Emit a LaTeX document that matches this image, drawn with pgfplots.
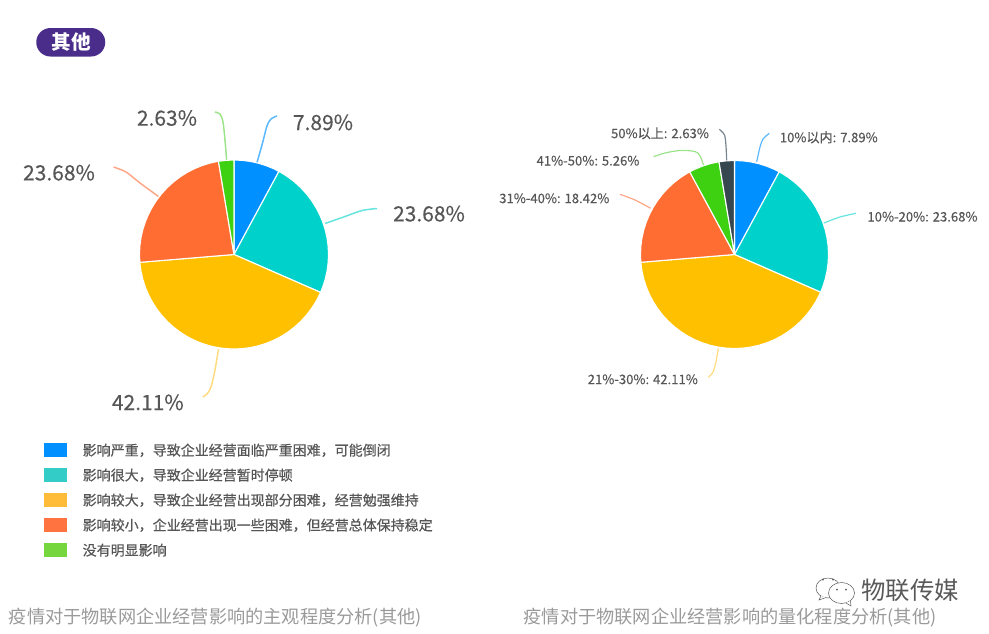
\documentclass[border=0pt]{standalone}
\usepackage{fontspec}
\setmainfont{Noto Sans CJK SC}
\usepackage{pgfplots}
\pgfplotsset{compat=1.18}
\definecolor{cBlue}{HTML}{0090FF}
\definecolor{cTeal}{HTML}{00D2CB}
\definecolor{cYel}{HTML}{FFC000}
\definecolor{cOra}{HTML}{FF6D33}
\definecolor{cGre}{HTML}{3DD111}
\definecolor{cDark}{HTML}{37474F}
\definecolor{gTeal}{HTML}{33CCC6}
\definecolor{gYel}{HTML}{FFBC38}
\definecolor{gOra}{HTML}{FF7340}
\definecolor{gGre}{HTML}{76D63D}
\definecolor{lBlue}{HTML}{5BB8FF}
\definecolor{lTeal}{HTML}{66E4DF}
\definecolor{lYel}{HTML}{FFDC80}
\definecolor{lOra}{HTML}{FFA888}
\definecolor{lGre}{HTML}{9CE48A}
\definecolor{lDark}{HTML}{78858C}
\definecolor{txt}{HTML}{565656}
\definecolor{cap}{HTML}{9A9A9A}
\definecolor{pill}{HTML}{4A2C8A}
\pgfplotsset{
  pie/.style={hide axis, clip=false, scale only axis, width=220pt, height=220pt,
    xmin=-110, xmax=110, ymin=-110, ymax=110, anchor=center, data cs=polar},
  wedge/.style={fill=#1, draw=white, line width=1.1pt, line join=round, mark=none}
}
\newcommand{\biglab}[1]{\fontsize{21}{24}\selectfont\addfontfeature{FakeBold=0.25} #1}
\newcommand{\sm}[1]{\fontsize{13.1}{15}\selectfont\addfontfeature{FakeBold=0.25} #1}
\newcommand{\leg}[1]{\fontsize{14}{16}\selectfont\addfontfeature{FakeBold=0.5} #1}
\newcommand{\capt}[1]{\fontsize{18.2}{20}\selectfont #1}
\begin{document}
\begin{tikzpicture}[x=1pt,y=1pt]
\useasboundingbox (0,0) rectangle (989,633);
% pixel layer: titles, legend, leader lines, labels
\begin{axis}[hide axis, clip=false, scale only axis, width=989pt, height=633pt,
  at={(0,0)}, anchor=south west, xmin=0, xmax=989, ymin=0, ymax=633, y dir=reverse]
\fill[pill] (axis cs:50.5,28) -- (axis cs:91,28) arc[start angle=-90,end angle=90,radius=14.25] -- (axis cs:50.5,56.5) arc[start angle=90,end angle=270,radius=14.25] -- cycle;
\node[text=white,font=\bfseries\fontsize{19.6}{22}\selectfont] at (axis cs:71,42.5) {其他};
% leader lines, left
\addplot[lBlue,line width=1.5pt,smooth,mark=none] coordinates {(256.7,163.5)(262,145)(267,126)(271,119)(277,116)};
\addplot[lTeal,line width=1.5pt,smooth,mark=none] coordinates {(325,223.5)(345,216.5)(362,210.5)(377,208.5)};
\addplot[lYel,line width=1.5pt,smooth,mark=none] coordinates {(218.5,349)(215,370)(211,387)(207,394)(202.7,397)};
\addplot[lOra,line width=1.5pt,smooth,mark=none] coordinates {(158.5,196.5)(140,183)(126,172)(113.5,167)};
\addplot[lGre,line width=1.5pt,smooth,mark=none] coordinates {(226.7,161)(225,140)(223,122)(220,114)(215,112)};
% leader lines, right
\addplot[lBlue,line width=1.2pt,smooth,mark=none] coordinates {(756.7,161.7)(760,147)(763,139)(769.3,133.3)};
\addplot[lTeal,line width=1.2pt,smooth,mark=none] coordinates {(823.3,223.3)(840,217)(856,213.3)};
\addplot[lYel,line width=1.2pt,smooth,mark=none] coordinates {(718.3,348.3)(715.5,364)(712.5,373)(708.3,377.3)};
\addplot[lOra,line width=1.2pt,smooth,mark=none] coordinates {(650.7,208.3)(635,200)(620,194.3)};
\addplot[lGre,line width=1.2pt,smooth,mark=none] coordinates {(703.5,165)(700,156)(695,151.5)(680,150.5)(665,153)(653.5,156.7)};
\addplot[lDark,line width=1.2pt,smooth,mark=none] coordinates {(726.7,161)(726,146)(724.5,135)(719.3,129.3)};
% labels, left
\node[text=txt] at (axis cs:323,122.4) {\biglab{7.89\%}};
\node[text=txt] at (axis cs:429,213.7) {\biglab{23.68\%}};
\node[text=txt] at (axis cs:147.8,402.4) {\biglab{42.11\%}};
\node[text=txt] at (axis cs:59,172.7) {\biglab{23.68\%}};
\node[text=txt] at (axis cs:167,118) {\biglab{2.63\%}};
% labels, right
\node[text=txt] at (axis cs:828.8,137.3) {\sm{10\%以内: 7.89\%}};
\node[text=txt] at (axis cs:922.5,216.7) {\sm{10\%-20\%: 23.68\%}};
\node[text=txt] at (axis cs:642.8,379.3) {\sm{21\%-30\%: 42.11\%}};
\node[text=txt] at (axis cs:554.3,198.3) {\sm{31\%-40\%: 18.42\%}};
\node[text=txt] at (axis cs:588,160.7) {\sm{41\%-50\%: 5.26\%}};
\node[text=txt] at (axis cs:660,133.3) {\sm{50\%以上: 2.63\%}};
% legend
\addplot[fill=cBlue,draw=none] coordinates {(44,443.3)(67,443.3)(67,457)(44,457)} --cycle;
\addplot[fill=gTeal,draw=none] coordinates {(44,468)(67,468)(67,482)(44,482)} --cycle;
\addplot[fill=gYel,draw=none] coordinates {(44,493)(67,493)(67,507)(44,507)} --cycle;
\addplot[fill=gOra,draw=none] coordinates {(44,518)(67,518)(67,532)(44,532)} --cycle;
\addplot[fill=gGre,draw=none] coordinates {(44,543)(67,543)(67,557)(44,557)} --cycle;
\node[text=txt,anchor=west,inner sep=0] at (axis cs:82.5,450.3) {\leg{影响严重，导致企业经营面临严重困难，可能倒闭}};
\node[text=txt,anchor=west,inner sep=0] at (axis cs:82.5,475.2) {\leg{影响很大，导致企业经营暂时停顿}};
\node[text=txt,anchor=west,inner sep=0] at (axis cs:82.5,500.2) {\leg{影响较大，导致企业经营出现部分困难，经营勉强维持}};
\node[text=txt,anchor=west,inner sep=0] at (axis cs:82.5,525.2) {\leg{影响较小，企业经营出现一些困难，但经营总体保持稳定}};
\node[text=txt,anchor=west,inner sep=0] at (axis cs:82.5,550.2) {\leg{没有明显影响}};
% captions
\node[text=cap] at (axis cs:215.3,618) {\capt{疫情对于物联网企业经营影响的主观程度分析(其他)}};
\node[text=cap] at (axis cs:730,618) {\capt{疫情对于物联网企业经营影响的量化程度分析(其他)}};
% watermark
\draw[black!65,line width=.5pt,fill=white] (axis cs:828,588) ellipse [x radius=12,y radius=10];
\draw[black!65,line width=.5pt,fill=white] (axis cs:821,596) -- (axis cs:819,600) -- (axis cs:826,597.5);
\draw[black!65,line width=.5pt,fill=white] (axis cs:841.5,593) ellipse [x radius=13,y radius=10.5];
\draw[black!65,line width=.5pt,fill=white] (axis cs:846,603) -- (axis cs:851,606) -- (axis cs:850.5,601);
\fill[black!65] (axis cs:823,579.5) circle[radius=1];
\fill[black!65] (axis cs:833,579.5) circle[radius=1];
\fill[black!65] (axis cs:837,589.5) circle[radius=1];
\fill[black!65] (axis cs:846,589.5) circle[radius=1];
\node[text=black!65,font=\fontsize{24.4}{27}\selectfont] at (axis cs:910,590) {物联传媒};
\end{axis}
% left pie
\begin{axis}[pie, at={(234,378.5)}]
\addplot[wedge=cBlue] coordinates {(0,0)(90,94.5)(85,94.5)(80,94.5)(75,94.5)(70,94.5)(65,94.5)(61.6,94.5)} --cycle;
\addplot[wedge=cTeal] coordinates {(0,0)(61.6,94.5)(60,94.5)(55,94.5)(50,94.5)(45,94.5)(40,94.5)(35,94.5)(30,94.5)(25,94.5)(20,94.5)(15,94.5)(10,94.5)(5,94.5)(0,94.5)(-5,94.5)(-10,94.5)(-15,94.5)(-20,94.5)(-23.65,94.5)} --cycle;
\addplot[wedge=cYel] coordinates {(0,0)(-23.65,94.5)(-25,94.5)(-30,94.5)(-35,94.5)(-40,94.5)(-45,94.5)(-50,94.5)(-55,94.5)(-60,94.5)(-65,94.5)(-70,94.5)(-75,94.5)(-80,94.5)(-85,94.5)(-90,94.5)(-95,94.5)(-100,94.5)(-105,94.5)(-110,94.5)(-115,94.5)(-120,94.5)(-125,94.5)(-130,94.5)(-135,94.5)(-140,94.5)(-145,94.5)(-150,94.5)(-155,94.5)(-160,94.5)(-165,94.5)(-170,94.5)(-175,94.5)(-175.25,94.5)} --cycle;
\addplot[wedge=cOra] coordinates {(0,0)(-175.25,94.5)(-180,94.5)(-185,94.5)(-190,94.5)(-195,94.5)(-200,94.5)(-205,94.5)(-210,94.5)(-215,94.5)(-220,94.5)(-225,94.5)(-230,94.5)(-235,94.5)(-240,94.5)(-245,94.5)(-250,94.5)(-255,94.5)(-260,94.5)(-260.53,94.5)} --cycle;
\addplot[wedge=cGre] coordinates {(0,0)(-260.53,94.5)(-265,94.5)(-270,94.5)} --cycle;
\end{axis}
% right pie
\begin{axis}[pie, at={(734.5,378.5)}]
\addplot[wedge=cBlue] coordinates {(0,0)(90,94)(85,94)(80,94)(75,94)(70,94)(65,94)(61.6,94)} --cycle;
\addplot[wedge=cTeal] coordinates {(0,0)(61.6,94)(60,94)(55,94)(50,94)(45,94)(40,94)(35,94)(30,94)(25,94)(20,94)(15,94)(10,94)(5,94)(0,94)(-5,94)(-10,94)(-15,94)(-20,94)(-23.65,94)} --cycle;
\addplot[wedge=cYel] coordinates {(0,0)(-23.65,94)(-25,94)(-30,94)(-35,94)(-40,94)(-45,94)(-50,94)(-55,94)(-60,94)(-65,94)(-70,94)(-75,94)(-80,94)(-85,94)(-90,94)(-95,94)(-100,94)(-105,94)(-110,94)(-115,94)(-120,94)(-125,94)(-130,94)(-135,94)(-140,94)(-145,94)(-150,94)(-155,94)(-160,94)(-165,94)(-170,94)(-175,94)(-175.25,94)} --cycle;
\addplot[wedge=cOra] coordinates {(0,0)(-175.25,94)(-180,94)(-185,94)(-190,94)(-195,94)(-200,94)(-205,94)(-210,94)(-215,94)(-220,94)(-225,94)(-230,94)(-235,94)(-240,94)(-241.56,94)} --cycle;
\addplot[wedge=cGre] coordinates {(0,0)(-241.56,94)(-245,94)(-250,94)(-255,94)(-260,94)(-260.5,94)} --cycle;
\addplot[wedge=cDark] coordinates {(0,0)(-260.5,94)(-265,94)(-270,94)} --cycle;
\end{axis}
\end{tikzpicture}
\end{document}
